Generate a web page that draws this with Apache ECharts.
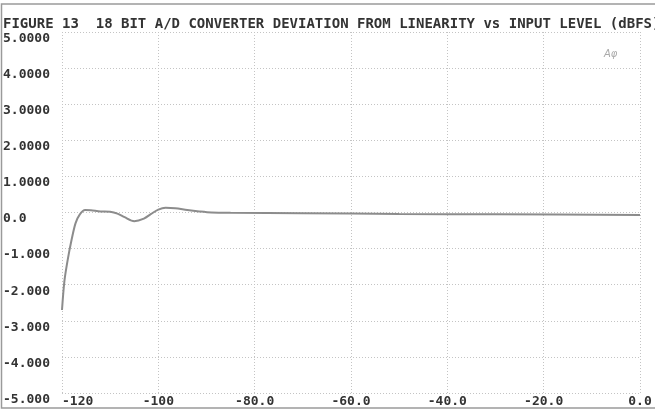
<!DOCTYPE html>
<html lang="en">
<head>
    <meta charset="UTF-8">
    <title>Figure 13 - 18 bit A/D converter deviation from linearity</title>
    <script src="https://cdn.jsdelivr.net/npm/echarts@6/dist/echarts.min.js"></script>
    <style>
        html, body { margin: 0; padding: 0; background: #fff; }
        #chart { width: 655px; height: 410px; }
    </style>
</head>
<body>
<div id="chart"></div>
<script>
    // input level (dBFS) and deviation from linearity
    var inputLevel = [-120, -119.5, -118.8, -118.0, -117.2, -116.3, -115.2, -114.0, -112.0, -110.0,
        -108.5, -107.0, -105.0, -103.0, -101.5, -100.0, -98.5, -96.5, -94.0, -91.5,
        -89.0, -85.0, -70.0, -50.0, -30.0, 0];
    var deviation = [-2.7, -1.9, -1.3, -0.75, -0.3, -0.05, 0.07, 0.06, 0.03, 0.02,
        -0.03, -0.13, -0.24, -0.17, -0.04, 0.08, 0.13, 0.12, 0.07, 0.03,
        0.0, -0.01, -0.02, -0.04, -0.05, -0.07];

    var xTickLabels = {'-120': '-120', '-100': '-100', '-80': '-80.0', '-60': '-60.0',
        '-40': '-40.0', '-20': '-20.0', '0': '0.0'};
    var yTickLabels = {'5': '5.0000', '4': '4.0000', '3': '3.0000', '2': '2.0000', '1': '1.0000',
        '0': '0.0', '-1': '-1.000', '-2': '-2.000', '-3': '-3.000', '-4': '-4.000', '-5': '-5.000'};

    var titleText = 'FIGURE 13  18 BIT A/D CONVERTER DEVIATION FROM LINEARITY vs INPUT LEVEL (dBFS)';

    var points = inputLevel.map(function (x, i) { return [x, deviation[i]]; });

    var monoFont = '"DejaVu Sans Mono", "Liberation Mono", monospace';
    var inkColor = '#333';
    var gridStyle = {color: '#c4c4c4', type: [1, 2], width: 1};

    var chart = echarts.init(document.getElementById('chart'));
    chart.setOption({
        animation: false,
        backgroundColor: '#fff',
        title: {
            text: titleText,
            left: 3,
            top: 17,
            padding: 0,
            textStyle: {fontFamily: monoFont, fontSize: 14, fontWeight: 'bold', color: inkColor}
        },
        grid: {left: 62, right: 15, top: 32, bottom: 17, containLabel: false},
        xAxis: {
            type: 'value',
            min: -120,
            max: 0,
            interval: 20,
            axisLine: {show: false},
            axisTick: {show: false},
            splitLine: {show: true, lineStyle: gridStyle},
            axisLabel: {
                margin: 2,
                alignMinLabel: 'left',
                fontFamily: monoFont,
                fontSize: 13,
                fontWeight: 'bold',
                color: inkColor,
                formatter: function (v) { return xTickLabels[String(v)]; }
            }
        },
        yAxis: {
            type: 'value',
            min: -5,
            max: 5,
            interval: 1,
            axisLine: {show: false},
            axisTick: {show: false},
            splitLine: {show: true, lineStyle: gridStyle},
            axisLabel: {
                margin: 59,
                align: 'left',
                verticalAlign: 'top',
                fontFamily: monoFont,
                fontSize: 13,
                fontWeight: 'bold',
                color: inkColor,
                formatter: function (v) { return yTickLabels[String(v)]; }
            }
        },
        series: [{
            type: 'line',
            data: points,
            showSymbol: false,
            smooth: 0.3,
            lineStyle: {color: '#8c8c8c', width: 2}
        }],
        graphic: [
            {
                type: 'rect',
                shape: {x: 1.5, y: 4, width: 660, height: 404},
                style: {fill: null, stroke: '#9a9a9a', lineWidth: 1.5},
                silent: true
            },
            {
                type: 'text',
                left: 604,
                top: 49,
                style: {text: 'Aφ', font: 'italic 10px "DejaVu Sans"', fill: '#aaa'},
                silent: true
            }
        ]
    });
</script>
</body>
</html>
